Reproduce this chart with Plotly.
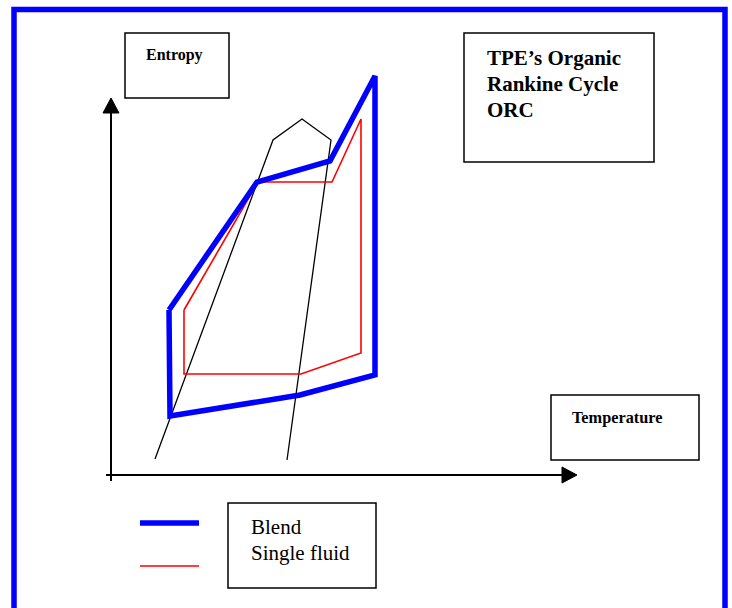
import plotly.graph_objects as go

# Schematic T-S diagram values (notional units: origin at the axes crossing)
blend_T = [58, 59, 189, 264, 264, 219, 146, 58]
blend_S = [165, 59, 80, 100, 399, 314, 293, 165]

single_T = [73, 73, 190, 250, 250, 221, 147, 73]
single_S = [165, 101, 101, 122, 356, 293, 293, 165]

dome_T = [44, 162, 191, 220, 176]
dome_S = [16, 335, 356, 335, 15]

axis_T_end = 451
axis_S_end = 362
title_lines = ["TPE\u2019s Organic", "Rankine Cycle", "ORC"]
legend_names = ["Blend", "Single fluid"]

BLUE = "#0000FF"
RED = "#FF0000"
SERIF = "Liberation Serif, Times New Roman, serif"

fig = go.Figure()

# axes lines
fig.add_trace(go.Scatter(x=[-5, axis_T_end], y=[0, 0], mode="lines",
                         line=dict(color="black", width=2), hoverinfo="skip"))
fig.add_trace(go.Scatter(x=[0, 0], y=[-6, axis_S_end], mode="lines",
                         line=dict(color="black", width=2), hoverinfo="skip"))
# arrow heads
fig.add_trace(go.Scatter(x=[axis_T_end, axis_T_end + 15, axis_T_end, axis_T_end],
                         y=[8, 0, -8, 8], mode="lines", fill="toself",
                         fillcolor="black", line=dict(color="black", width=1),
                         hoverinfo="skip"))
fig.add_trace(go.Scatter(x=[-8, 0, 8, -8],
                         y=[axis_S_end, axis_S_end + 15, axis_S_end, axis_S_end],
                         mode="lines", fill="toself", fillcolor="black",
                         line=dict(color="black", width=1), hoverinfo="skip"))

# saturation dome
fig.add_trace(go.Scatter(x=dome_T, y=dome_S, mode="lines",
                         line=dict(color="black", width=1.3), hoverinfo="skip"))
# single fluid cycle
fig.add_trace(go.Scatter(x=single_T, y=single_S, mode="lines",
                         line=dict(color=RED, width=1.6), hoverinfo="skip"))
# blend cycle
fig.add_trace(go.Scatter(x=blend_T, y=blend_S, mode="lines",
                         line=dict(color=BLUE, width=5.5), hoverinfo="skip"))

# legend sample lines
fig.add_trace(go.Scatter(x=[29, 88], y=[-48, -48], mode="lines",
                         line=dict(color=BLUE, width=5.5), hoverinfo="skip"))
fig.add_trace(go.Scatter(x=[29, 88], y=[-91, -91], mode="lines",
                         line=dict(color=RED, width=1.6), hoverinfo="skip"))

shapes = [
    # outer blue frame
    dict(type="rect", x0=-97, x1=614, y0=-160, y1=465.5,
         line=dict(color=BLUE, width=5.5)),
    # Entropy box
    dict(type="rect", x0=14, x1=118, y0=377, y1=442,
         line=dict(color="black", width=1.5)),
    # title box
    dict(type="rect", x0=353, x1=543, y0=313, y1=442,
         line=dict(color="black", width=1.5)),
    # Temperature box
    dict(type="rect", x0=440, x1=588, y0=15, y1=80,
         line=dict(color="black", width=1.5)),
    # legend box
    dict(type="rect", x0=117, x1=265, y0=-113, y1=-28,
         line=dict(color="black", width=1.5)),
]

annotations = [
    dict(x=63, y=420, text="<b>Entropy</b>", showarrow=False,
         font=dict(family=SERIF, size=16, color="black"),
         xanchor="center", yanchor="middle"),
    dict(x=506, y=58, text="<b>Temperature</b>", showarrow=False,
         font=dict(family=SERIF, size=16.3, color="black"),
         xanchor="center", yanchor="middle"),
]
for line_text, s in zip(title_lines, [417, 391, 365]):
    annotations.append(dict(x=374, y=s, text="<b>" + line_text + "</b>",
                            showarrow=False,
                            font=dict(family=SERIF, size=21, color="black"),
                            xanchor="left", yanchor="middle"))
for name, s in zip(legend_names, [-52, -78]):
    annotations.append(dict(x=138, y=s, text=name, showarrow=False,
                            font=dict(family=SERIF, size=21, color="black"),
                            xanchor="left", yanchor="middle"))

fig.update_layout(
    width=732, height=608,
    margin=dict(l=0, r=0, t=0, b=0),
    paper_bgcolor="white", plot_bgcolor="white",
    showlegend=False,
    shapes=shapes,
    annotations=annotations,
    xaxis=dict(range=[-111, 621], visible=False, fixedrange=True),
    yaxis=dict(range=[-133, 475], visible=False, fixedrange=True),
)

fig.write_html("out.html", config={"displayModeBar": False},
               post_script="document.body.style.margin='0';"
                           "document.body.style.overflow='hidden';")
